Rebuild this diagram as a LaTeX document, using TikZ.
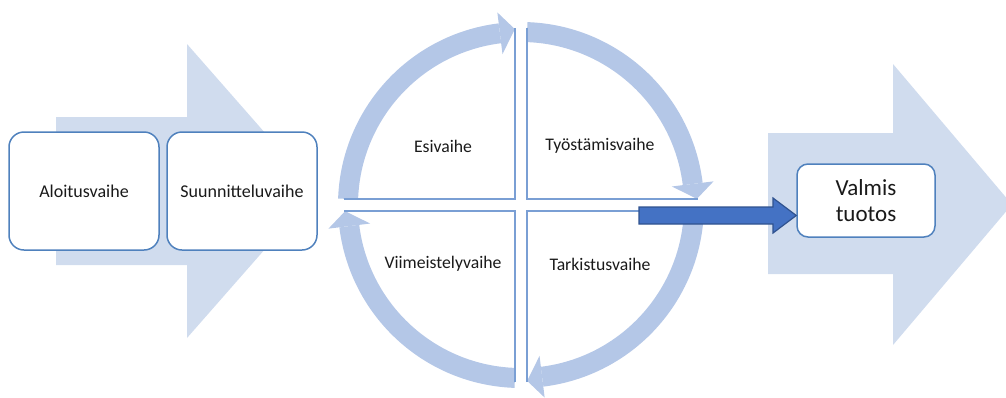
\documentclass[tikz,border=0pt]{standalone}
\usepackage{fontspec}
\setmainfont{Carlito}
\usetikzlibrary{calc}
\definecolor{bigarrow}{HTML}{D0DCEE}
\definecolor{ringc}{HTML}{B4C7E7}
\definecolor{boxline}{HTML}{4F81BD}
\definecolor{quadline}{HTML}{7A9FD4}
\definecolor{darkfill}{HTML}{4472C4}
\definecolor{darkline}{HTML}{2F528F}
\definecolor{txt}{HTML}{1A1A1A}
\tikzset{
  stagebox/.style={draw=boxline, line width=1.5pt, fill=white, rounded corners=15pt,
    minimum width=150pt, minimum height=118pt, inner sep=0pt, text=txt, font=\fontsize{18}{21}\selectfont},
  resultbox/.style={draw=boxline, line width=1.5pt, fill=white, rounded corners=11pt,
    minimum width=138pt, minimum height=73pt, inner sep=0pt, text=txt, align=center,
    font=\fontsize{23}{25.5}\selectfont},
  quadtext/.style={text=txt, font=\fontsize{17.7}{21}\selectfont, inner sep=0pt},
  ring/.style={draw=ringc, line width=20pt},
  quad/.style={draw=quadline, line width=1.5pt},
}
\begin{document}
\begin{tikzpicture}[x=1pt,y=-1pt]
\useasboundingbox (0,0) rectangle (1006,397);
\clip (0,0) rectangle (1006,397);
% big background arrows
\fill[bigarrow] (56,117) -- (187,117) -- (187,44) -- (316,191) -- (187,338) -- (187,265) -- (56,265) -- cycle;
\fill[bigarrow] (768,133) -- (893,133) -- (893,64) -- (1012,204.5) -- (893,345) -- (893,274) -- (768,274) -- cycle;
% left boxes
\node[stagebox] (alo) at (84,191) {Aloitusvaihe};
\node[stagebox] (suu) at (242,191) {Suunnitteluvaihe};
% ring
\coordinate (C) at (521,205);
\foreach \k in {0,90,180,270}{
  \draw[ring] ($(C)+(\k+2:173)$) arc[start angle=\k+2, end angle=\k+83, radius=173];
  \fill[ringc] ($(C)+(\k+83:152)$) -- ($(C)+(\k+83:194)$) -- ($(C)+(\k+88:176)$) -- cycle;
}
% quadrant outlines
\draw[quad] (344,199) -- (515,199) -- (515,28);
\draw[quad] (527,28) -- (527,199) -- (698,199);
\draw[quad] (344,211) -- (515,211) -- (515,382);
\draw[quad] (527,382) -- (527,211) -- (698,211);
% quadrant labels
\node[quadtext] (esi) at (443,146) {Esivaihe};
\node[quadtext] (tyo) at (600,146) {Työstämisvaihe};
\node[quadtext] (vii) at (443,264) {Viimeistelyvaihe};
\node[quadtext] (tar) at (600,264) {Tarkistusvaihe};
% result box
\node[resultbox] (val) at (866,200.5) {Valmis\\tuotos};
% dark arrow
\coordinate (ds) at (639,215.5);
\filldraw[fill=darkfill, draw=darkline, line width=1.2pt]
  (ds) ++(0,-8.5) -- (773,207) -- (773,198) -- (val.west |- ds) -- (773,233) -- (773,224) -- (639,224) -- cycle;
\end{tikzpicture}
\end{document}
